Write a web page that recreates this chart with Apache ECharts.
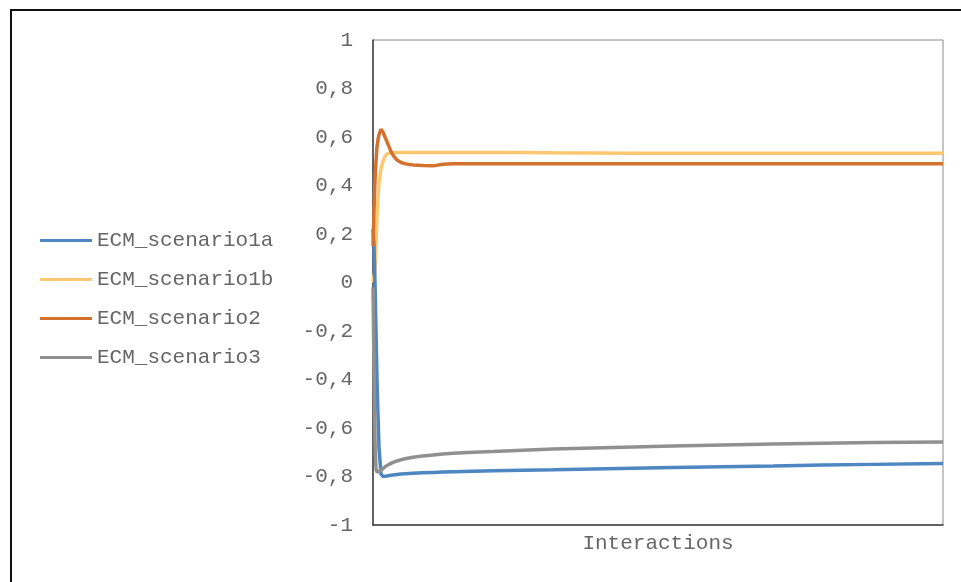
<!DOCTYPE html>
<html>
<head>
<meta charset="utf-8">
<script src="https://cdn.jsdelivr.net/npm/echarts@6/dist/echarts.min.js"></script>
<style>html,body{margin:0;padding:0;background:#fff}#c{width:961px;height:582px}</style>
</head>
<body>
<div id="c"></div>
<script>
// Interaction index (sampled positions along the x axis)
var xs = [0, 1, 2, 3, 4, 5, 6, 8, 10, 12, 14, 16, 18, 20, 24, 28, 32, 36, 40, 50, 60, 70, 80, 100, 120, 150, 180, 220, 260, 300, 350, 400, 450, 500, 570];
var seriesNames = ['ECM_scenario1a', 'ECM_scenario1b', 'ECM_scenario2', 'ECM_scenario3'];
var scenario1a = [0.22, 0.15, 0.0, -0.20, -0.40, -0.55, -0.68, -0.79, -0.80, -0.80, -0.798, -0.796, -0.795, -0.794, -0.792, -0.79, -0.789, -0.788, -0.787, -0.785, -0.783, -0.781, -0.78, -0.778, -0.776, -0.774, -0.772, -0.769, -0.766, -0.763, -0.76, -0.757, -0.753, -0.75, -0.746];
var scenario1b = [0.0, 0.0, 0.05, 0.15, 0.27, 0.35, 0.41, 0.47, 0.50, 0.52, 0.53, 0.535, 0.536, 0.536, 0.536, 0.536, 0.536, 0.536, 0.536, 0.536, 0.536, 0.536, 0.536, 0.536, 0.536, 0.536, 0.535, 0.534, 0.533, 0.533, 0.533, 0.533, 0.533, 0.533, 0.533];
var scenario2 = [0.15, 0.30, 0.42, 0.50, 0.56, 0.59, 0.61, 0.632, 0.62, 0.60, 0.58, 0.56, 0.54, 0.525, 0.505, 0.495, 0.49, 0.487, 0.485, 0.482, 0.481, 0.488, 0.49, 0.49, 0.49, 0.49, 0.49, 0.49, 0.49, 0.49, 0.49, 0.49, 0.49, 0.49, 0.49];
var scenario3 = [-0.02, -0.35, -0.65, -0.77, -0.782, -0.782, -0.78, -0.775, -0.767, -0.76, -0.755, -0.75, -0.746, -0.742, -0.736, -0.731, -0.727, -0.724, -0.721, -0.715, -0.711, -0.707, -0.704, -0.700, -0.697, -0.692, -0.687, -0.682, -0.678, -0.674, -0.670, -0.666, -0.663, -0.660, -0.658];
var colors = ['#4e86c2', '#ffc870', '#d4722d', '#909090'];
var yTicks = { min: -1, max: 1, interval: 0.2 };

var allValues = [scenario1a, scenario1b, scenario2, scenario3];
function pairs(vals) { return xs.map(function (x, i) { return [x, vals[i]]; }); }

var font = 'Liberation Mono, "Courier New", monospace';
var chart = echarts.init(document.getElementById('c'));
chart.setOption({
  animation: false,
  backgroundColor: '#ffffff',
  graphic: [{
    type: 'rect',
    shape: { x: 11, y: 10, width: 1200, height: 1200 },
    style: { fill: 'none', stroke: '#111', lineWidth: 2 },
    z: 100
  }],
  grid: { left: 373, top: 40, right: 18, bottom: 57, show: true, borderColor: '#8a8a8a', borderWidth: 1, containLabel: false },
  legend: {
    orient: 'vertical',
    left: 35,
    top: 225,
    icon: 'rect',
    itemWidth: 52,
    itemHeight: 3,
    itemGap: 18,
    data: seriesNames,
    textStyle: { fontFamily: font, fontSize: 21, color: '#666666' }
  },
  xAxis: {
    type: 'value',
    min: 0,
    max: xs[xs.length - 1],
    name: 'Interactions',
    nameLocation: 'middle',
    nameGap: 8,
    nameTextStyle: { fontFamily: font, fontSize: 21, color: '#666666', verticalAlign: 'top' },
    axisLine: { show: true, onZero: false, lineStyle: { color: '#404040', width: 1.5 } },
    axisTick: { show: false },
    axisLabel: { show: false },
    splitLine: { show: false }
  },
  yAxis: {
    type: 'value',
    min: yTicks.min,
    max: yTicks.max,
    interval: yTicks.interval,
    axisLine: { show: true, lineStyle: { color: '#404040', width: 1.5 } },
    axisTick: { show: false },
    splitLine: { show: false },
    axisLabel: {
      margin: 20,
      fontFamily: font,
      fontSize: 21,
      color: '#666666',
      formatter: function (v) { return String(Math.round(v * 10) / 10).replace('.', ','); }
    }
  },
  series: seriesNames.map(function (n, i) {
    return {
      name: n,
      type: 'line',
      data: pairs(allValues[i]),
      symbol: 'none',
      smooth: false,
      color: colors[i],
      lineStyle: { width: 3.5, color: colors[i] },
      z: i === 1 ? 2 : 3
    };
  })
});
</script>
</body>
</html>
